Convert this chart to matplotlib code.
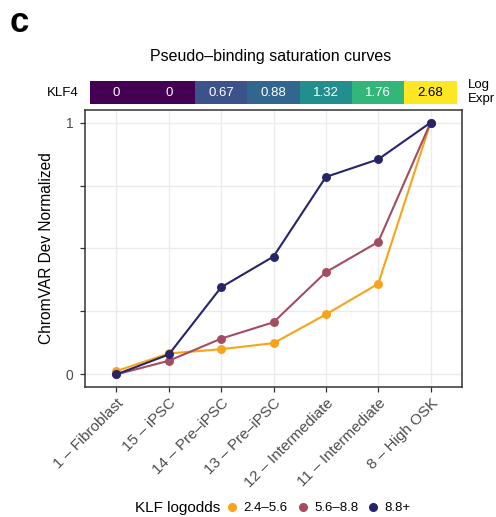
import numpy as np
import matplotlib
matplotlib.use("Agg")
from matplotlib import pyplot as plt
from matplotlib.lines import Line2D
from matplotlib.colors import Normalize

plt.rcParams['font.family'] = ['Liberation Sans', 'DejaVu Sans']

clusters = ['1 – Fibroblast', '15 – iPSC', '14 – Pre–iPSC', '13 – Pre–iPSC',
            '12 – Intermediate', '11 – Intermediate', '8 – High OSK']
klf4_expr = [0, 0, 0.67, 0.88, 1.32, 1.76, 2.68]

group_labels = ['2.4–5.6', '5.6–8.8', '8.8+']
group_colors = ['#F9A31B', '#A24D60', '#26246B']
dev_low = [0.013, 0.083, 0.10, 0.124, 0.238, 0.36, 1.0]
dev_mid = [0.0, 0.054, 0.142, 0.207, 0.406, 0.526, 1.0]
dev_high = [0.0, 0.079, 0.346, 0.468, 0.784, 0.854, 1.0]

x = np.arange(1, len(clusters) + 1)

fig = plt.figure(figsize=(4.96, 5.17), dpi=100)
ax = fig.add_axes([0.1714, 0.2515, 0.7601, 0.5358])
hb = fig.add_axes([0.1714, 0.7983, 0.7601, 0.0451])

# main panel
for vals, col in zip([dev_low, dev_mid, dev_high], group_colors):
    ax.plot(x, vals, color=col, lw=1.5, marker='o', ms=5.4, zorder=3)

ax.set_xlim(0.4, 7.6)
ax.set_ylim(-0.05, 1.05)
ax.set_xticks(x)
ax.set_xticklabels(clusters, rotation=45, ha='right', rotation_mode='anchor',
                   fontsize=11, color='#4D4D4D')
ax.set_yticks([0, 0.25, 0.5, 0.75, 1])
ax.set_yticklabels(['0', '', '', '', '1'], fontsize=10, color='#4D4D4D')
ax.tick_params(length=3.5, width=0.9, color='#333333', pad=3)
ax.tick_params(axis='y', pad=5)
ax.grid(True, color='#EBEBEB', lw=1.0, zorder=0)
ax.set_axisbelow(True)
for sp in ax.spines.values():
    sp.set_color('#333333')
    sp.set_linewidth(1.1)
ax.set_ylabel('ChromVAR Dev Normalized', fontsize=11.2, labelpad=8)

# expression strip
norm = Normalize(vmin=0, vmax=max(klf4_expr))
cmap = plt.get_cmap('viridis')
hb.bar(x, np.ones(len(x)), width=1.0, bottom=0,
       color=[cmap(norm(v)) for v in klf4_expr], linewidth=0)
for xi, v in zip(x, klf4_expr):
    txt = '0' if v == 0 else f'{v:.2f}'
    hb.text(xi, 0.5, txt, ha='center', va='center', fontsize=9.5,
            color='black' if norm(v) > 0.9 else 'white')
hb.set_xlim(0.4, 7.6)
hb.set_ylim(0, 1)
hb.axis('off')
hb.text(-0.016, 0.5, 'KLF4', transform=hb.transAxes, ha='right', va='center',
        fontsize=9.5)
fig.text(468 / 496, 1 - 92 / 517, 'Log\nExpr', ha='left', va='center',
         fontsize=9.5, linespacing=1.15)

fig.text(0.546, 1 - 57 / 517, 'Pseudo–binding saturation curves',
         ha='center', va='center', fontsize=11.5)
fig.text(0.02, 1 - 22 / 517, 'c', fontsize=25, fontweight='bold',
         ha='left', va='center')

# legend along the bottom
fig.text(135 / 496, 1 - 508 / 517, 'KLF logodds', ha='left', va='center',
         fontsize=11)
handles = [Line2D([], [], marker='o', ls='none', color=c, ms=5.5)
           for c in group_colors]
fig.legend(handles, group_labels, loc='center left',
           bbox_to_anchor=(227 / 496, 1 - 508 / 517), ncol=3, frameon=False,
           fontsize=9.5, handlelength=0.8, handletextpad=0.45,
           columnspacing=0.75, borderaxespad=0, borderpad=0)

fig.savefig('out.png', dpi=100)
